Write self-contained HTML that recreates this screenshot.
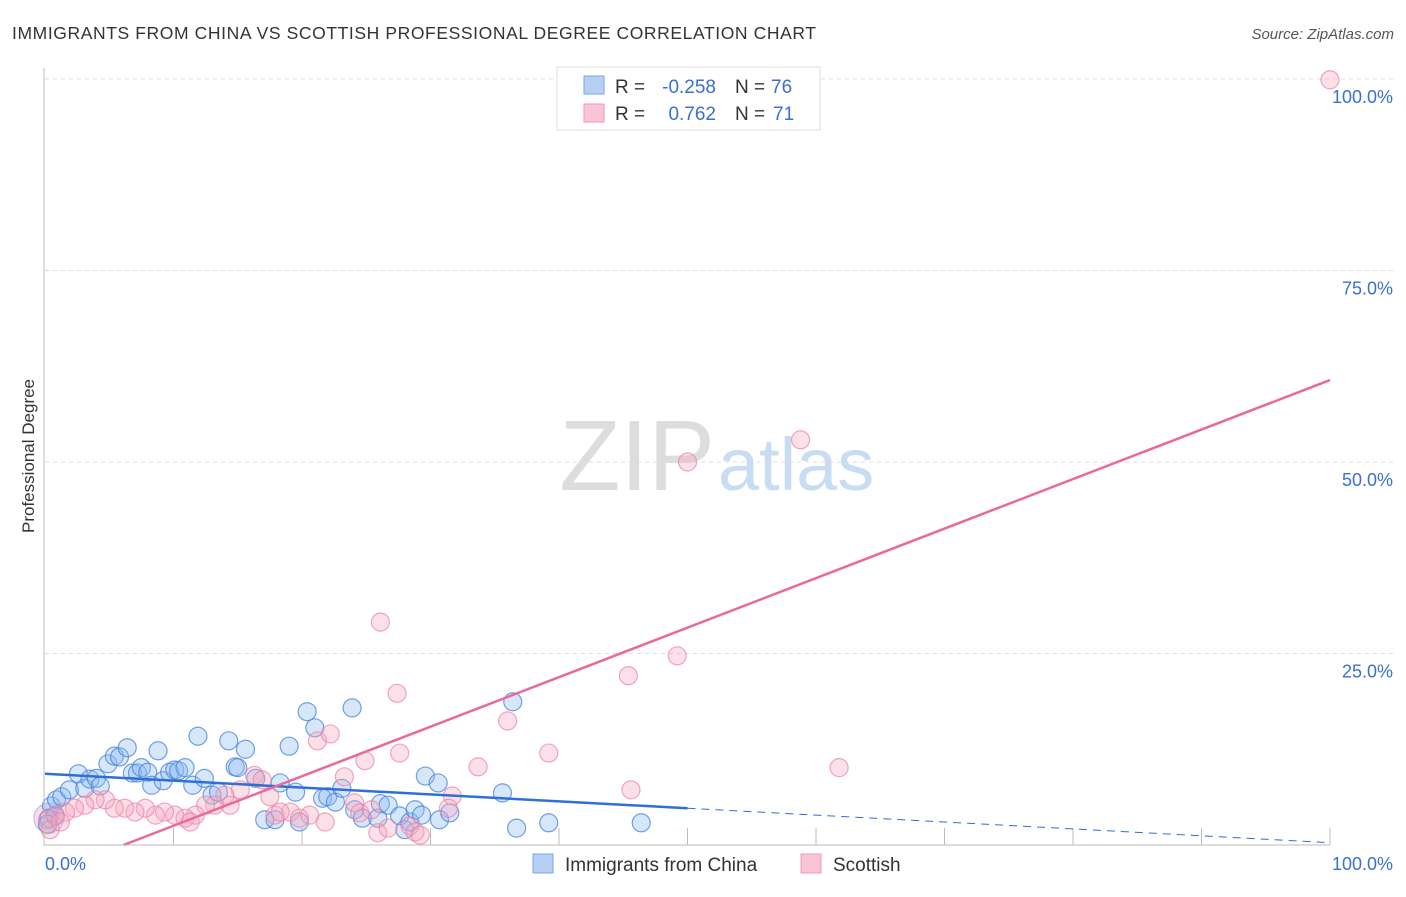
<!DOCTYPE html>
<html><head><meta charset="utf-8"><style>
body{margin:0;background:#fff;font-family:"Liberation Sans",sans-serif}
svg text{font-family:"Liberation Sans",sans-serif}
</style></head><body>
<svg width="1406" height="892" xmlns="http://www.w3.org/2000/svg">
<text x="12" y="39" font-size="17.5" fill="#333" letter-spacing="0.6">IMMIGRANTS FROM CHINA VS SCOTTISH PROFESSIONAL DEGREE CORRELATION CHART</text>
<text x="1394" y="39" font-size="15" fill="#555" font-style="italic" text-anchor="end">Source: ZipAtlas.com</text>
<text x="715" y="490" font-size="100" fill="#ddd" text-anchor="end" font-family="Liberation Serif">ZIP</text>
<text x="718" y="490" font-size="74" fill="#c8dcf3">atlas</text>
<g id="grid"></g><g id="pts"></g><g id="lines"></g>
<line x1="44" y1="68" x2="44" y2="845" stroke="#bbb"/>
<line x1="44" y1="845" x2="1330" y2="845" stroke="#bbb"/>
<text x="34" y="456" font-size="17" fill="#333" text-anchor="middle" transform="rotate(-90 34 456)">Professional Degree</text>
<text x="45" y="870" font-size="18" fill="#3b6fd4">0.0%</text>
<text x="1393" y="870" font-size="18" fill="#3b6fd4" text-anchor="end">100.0%</text>
<g>
<rect x="557" y="67" width="263" height="63" fill="#fff" stroke="#ddd"/>
<rect x="584" y="76" width="20" height="18" fill="#b5d0f3" stroke="#7aa6e6"/>
<rect x="584" y="104" width="20" height="18" fill="#f9c4d3" stroke="#ee9ab3"/>
<text x="615" y="93" font-size="19" fill="#333">R =</text>
<text x="716" y="93" font-size="19" fill="#3b6fd4" text-anchor="end">-0.258</text>
<text x="735" y="93" font-size="19" fill="#333">N =</text>
<text x="771" y="93" font-size="19" fill="#3b6fd4">76</text>
<text x="615" y="120" font-size="19" fill="#333">R =</text>
<text x="716" y="120" font-size="19" fill="#3b6fd4" text-anchor="end">0.762</text>
<text x="735" y="120" font-size="19" fill="#333">N =</text>
<text x="773" y="120" font-size="19" fill="#3b6fd4">71</text>
</g>
<g>
<rect x="533" y="854" width="20" height="19" fill="#b5d0f3" stroke="#7aa6e6"/>
<text x="565" y="871" font-size="19" fill="#333">Immigrants from China</text>
<rect x="801" y="854" width="20" height="19" fill="#f9c4d3" stroke="#ee9ab3"/>
<text x="833" y="871" font-size="19" fill="#333">Scottish</text>
</g>
</svg>
<script>
const yTicks=[25,50,75,100];
const yTickLabels=["25.0%","50.0%","75.0%","100.0%"];
const xTicks=[10,20,30,40,50,60,70,80,90,100];
const chinaX=[0.5,0.9,1.3,1.9,2.6,3.1,3.5,4.0,4.3,4.9,5.4,5.8,6.4,6.8,7.2,7.5,8.0,8.3,8.8,9.2,9.7,10.1,10.4,10.9,11.5,11.9,12.4,13.0,13.5,14.3,14.8,15.0,15.6,16.4,17.1,17.9,18.3,19.0,19.5,19.8,20.4,21.0,21.6,22.0,22.6,23.1,23.9,24.1,24.7,25.9,26.1,26.7,27.6,28.0,28.4,28.8,29.3,29.6,30.6,30.7,31.5,35.6,36.4,36.7,39.2,46.4,0.3,0.8,0.2];
const chinaY=[5.1,5.9,6.3,7.2,9.3,7.4,8.6,8.7,7.7,10.6,11.6,11.5,12.7,9.4,9.4,10.1,9.5,7.8,12.3,8.4,9.5,9.8,9.7,10.1,7.8,14.2,8.7,6.5,6.9,13.6,10.2,10.1,12.5,8.7,3.3,3.3,8.1,12.9,6.9,3.0,17.4,15.3,6.1,6.3,5.6,7.4,17.9,4.6,3.5,3.5,5.4,5.2,3.8,2.0,3.0,4.6,3.9,9.0,8.1,3.3,4.2,6.8,18.7,2.2,2.9,2.9,3.5,3.8,2.7];
const scotX=[100,58.8,50.0,26.1,49.2,45.4,27.4,36.0,21.2,22.2,39.2,27.6,61.8,33.7,24.9,23.3,45.6,31.7,16.3,16.9,15.2,17.5,14.0,14.4,13.2,12.5,11.7,10.9,10.1,9.3,8.6,7.8,7.0,6.2,5.4,4.7,3.9,3.1,2.3,1.6,0.8,0.2,0.4,1.2,19.1,19.8,20.6,21.8,24.1,24.5,25.4,25.9,26.7,28.4,28.8,29.2,31.4,11.3,17.9,18.3];
const scotY=[99.9,52.9,50.0,29.1,24.7,22.1,19.8,16.2,13.6,14.5,12.0,12.0,10.1,10.2,11.0,8.9,7.2,6.4,9.1,8.5,7.2,6.3,6.5,5.2,5.2,5.2,3.9,3.5,3.9,4.3,3.9,4.8,4.3,4.8,4.8,5.9,5.9,5.2,4.8,4.3,3.9,3.3,2.0,3.0,4.3,3.5,3.9,3.0,5.5,4.2,4.6,1.6,2.2,2.5,1.7,1.3,4.8,3.0,3.9,4.3];
const chinaTrend=[9.3,4.8,0.3];
const scotTrend=[-3.95,60.7];
const NS="http://www.w3.org/2000/svg";
const X=v=>45+v*12.85, Y=v=>845-v*7.66;
function mk(t,a,p){const e=document.createElementNS(NS,t);for(const k in a)e.setAttribute(k,a[k]);p.appendChild(e);return e;}
const g=document.getElementById('grid');
yTicks.forEach((t,i)=>{
 const l=mk('line',{x1:45,x2:1395,y1:Y(t),y2:Y(t),stroke:'#ddd','stroke-dasharray':'4,4'},g);
 
 
 const tx=mk('text',{x:1393,y:Y(t)+24,'font-size':18,fill:'#3b6fd4','text-anchor':'end'},g);
 tx.textContent=yTickLabels[i];
 
 
});
xTicks.forEach(t=>{
 const l=mk('line',{x1:X(t),x2:X(t),y1:828,y2:845,stroke:'#bbb'},g);
 
 
});
const p=document.getElementById('pts');
const big1=mk('circle',{cx:X(0.3),cy:Y(3.5),r:15,fill:'rgba(230,170,200,0.4)',stroke:'rgba(150,150,220,0.6)'},p);


chinaX.forEach((x,i)=>{
 const c=mk('circle',{cx:X(x),cy:Y(chinaY[i]),r:9,fill:'rgba(140,185,240,0.35)',stroke:'rgba(70,130,220,0.75)','stroke-width':1.2},p);
 
 
});
scotX.forEach((x,i)=>{
 const c=mk('circle',{cx:X(x),cy:Y(scotY[i]),r:9,fill:'rgba(245,165,190,0.35)',stroke:'rgba(235,130,165,0.7)','stroke-width':1.2},p);
 
 
});
const L=document.getElementById('lines');
const b1=mk('line',{x1:X(0),y1:Y(chinaTrend[0]),x2:X(50),y2:Y(chinaTrend[1]),stroke:'#2f6fd6','stroke-width':2.5},L);


const b2=mk('line',{x1:X(50),y1:Y(chinaTrend[1]),x2:X(100),y2:Y(chinaTrend[2]),stroke:'#2f6fd6','stroke-width':1,'stroke-dasharray':'8,6'},L);


const x0=-scotTrend[0]/((scotTrend[1]-scotTrend[0])/100);
const pl=mk('line',{x1:X(x0),y1:Y(0),x2:X(100),y2:Y(scotTrend[1]),stroke:'#e8699a','stroke-width':2.5},L);


</script>
</body></html>
